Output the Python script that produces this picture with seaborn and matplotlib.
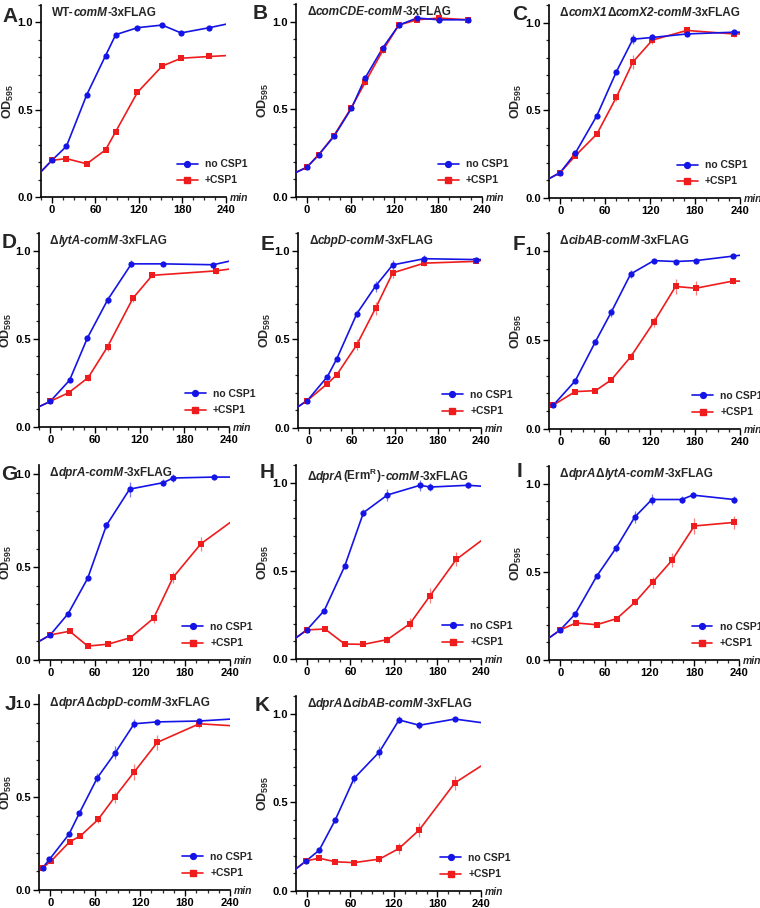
import numpy as np
import pandas as pd
import matplotlib
matplotlib.use("Agg")
import matplotlib.pyplot as plt
import matplotlib.ticker as ticker
import matplotlib.transforms as mtrans
from matplotlib.lines import Line2D
from matplotlib.offsetbox import TextArea, HPacker, AnchoredOffsetbox
import seaborn as sns


# ---------------------------------------------------------------------------
# Données (OD595 en fonction du temps, min)
# *_edge = (valeur de la courbe à -15 min, fin "no CSP1" à 240, fin "+CSP1" à 240)
# ---------------------------------------------------------------------------
A_t = [0, 20, 48, 74, 88, 118, 152, 178, 217]
A_no = [0.21, 0.29, 0.585, 0.81, 0.93, 0.97, 0.985, 0.94, 0.97]
A_csp = [0.21, 0.22, 0.19, 0.27, 0.375, 0.60, 0.75, 0.795, 0.805]
A_no_err = [0.005, 0.005, 0.005, 0.005, 0.005, 0.005, 0.005, 0.005, 0.005]
A_csp_err = [0.005, 0.005, 0.005, 0.005, 0.005, 0.005, 0.005, 0.005, 0.005]
A_edge = (0.145, 0.99, 0.81)

B_t = [0, 16, 37, 61, 80, 104, 126, 151, 181, 221]
B_no = [0.17, 0.24, 0.345, 0.505, 0.68, 0.85, 0.98, 1.02, 1.01, 1.01]
B_csp = [0.17, 0.24, 0.35, 0.51, 0.655, 0.835, 0.98, 1.01, 1.02, 1.01]
B_no_err = [0.005, 0.005, 0.01, 0.01, 0.015, 0.015, 0.015, 0.005, 0.005, 0.005]
B_csp_err = [0.005, 0.005, 0.01, 0.01, 0.015, 0.015, 0.01, 0.005, 0.005, 0.005]
B_edge = (0.14, None, None)

C_t = [0, 20, 49, 75, 97, 123, 169, 232]
C_no = [0.145, 0.255, 0.47, 0.72, 0.905, 0.915, 0.935, 0.945]
C_csp = [0.145, 0.24, 0.365, 0.575, 0.775, 0.90, 0.955, 0.935]
C_no_err = [0.005, 0.01, 0.01, 0.015, 0.03, 0.02, 0.01, 0.01]
C_csp_err = [0.005, 0.01, 0.01, 0.02, 0.04, 0.02, 0.015, 0.015]
C_edge = (0.11, 0.945, 0.935)

D_t_no = [0, 26, 50, 77, 109, 151, 219]
D_t_csp = [0, 25, 51, 77, 111, 137, 222]
D_no = [0.145, 0.265, 0.505, 0.72, 0.925, 0.925, 0.92]
D_csp = [0.145, 0.195, 0.28, 0.455, 0.73, 0.86, 0.885]
D_no_err = [0.005, 0.01, 0.015, 0.02, 0.02, 0.01, 0.01]
D_csp_err = [0.005, 0.01, 0.02, 0.025, 0.02, 0.01, 0.015]
D_edge = (0.115, 0.94, 0.895)

E_t = [-2, 26, 39, 67, 93, 117, 161, 233]
E_no = [0.155, 0.29, 0.39, 0.645, 0.80, 0.92, 0.955, 0.95]
E_csp = [0.155, 0.25, 0.30, 0.47, 0.675, 0.875, 0.93, 0.94]
E_no_err = [0.01, 0.01, 0.01, 0.02, 0.03, 0.025, 0.02, 0.01]
E_csp_err = [0.01, 0.01, 0.01, 0.03, 0.035, 0.03, 0.015, 0.01]
E_edge = (0.12, 0.95, 0.945)

F_t = [-9, 20, 47, 68, 94, 125, 154, 181, 230]
F_no = [0.135, 0.27, 0.49, 0.655, 0.87, 0.945, 0.94, 0.945, 0.97]
F_csp = [0.135, 0.21, 0.215, 0.275, 0.405, 0.60, 0.80, 0.79, 0.83]
F_no_err = [0.01, 0.01, 0.015, 0.025, 0.025, 0.01, 0.01, 0.01, 0.01]
F_csp_err = [0.01, 0.01, 0.01, 0.01, 0.02, 0.03, 0.04, 0.04, 0.015]
F_edge = (0.12, 0.975, 0.83)

G_t_no = [0, 24, 50, 75, 106, 151, 164, 219]
G_t_csp = [0, 26, 50, 77, 107, 138, 164, 201]
G_no = [0.135, 0.25, 0.44, 0.725, 0.92, 0.955, 0.98, 0.985]
G_csp = [0.135, 0.155, 0.075, 0.085, 0.12, 0.225, 0.445, 0.625]
G_no_err = [0.01, 0.01, 0.01, 0.02, 0.04, 0.02, 0.02, 0.01]
G_csp_err = [0.01, 0.01, 0.01, 0.01, 0.015, 0.025, 0.03, 0.04]
G_edge = (0.10, 0.985, 0.74)

H_t_no = [0, 24, 52, 78, 111, 156, 170, 222]
H_t_csp = [0, 25, 52, 78, 111, 142, 170, 206]
H_no = [0.165, 0.275, 0.525, 0.83, 0.93, 0.985, 0.975, 0.985]
H_csp = [0.165, 0.17, 0.085, 0.083, 0.11, 0.20, 0.36, 0.565]
H_no_err = [0.01, 0.01, 0.01, 0.02, 0.035, 0.03, 0.025, 0.015]
H_csp_err = [0.01, 0.01, 0.01, 0.01, 0.02, 0.03, 0.04, 0.04]
H_edge = (0.12, 0.98, 0.67)

I_t_no = [0, 20, 49, 75, 100, 123, 163, 178, 233]
I_t_csp = [0, 21, 49, 76, 101, 124, 150, 180, 233]
I_no = [0.17, 0.26, 0.475, 0.635, 0.81, 0.91, 0.91, 0.935, 0.91]
I_csp = [0.17, 0.21, 0.20, 0.235, 0.33, 0.44, 0.565, 0.76, 0.78]
I_no_err = [0.01, 0.01, 0.01, 0.02, 0.035, 0.03, 0.02, 0.015, 0.02]
I_csp_err = [0.01, 0.01, 0.01, 0.01, 0.02, 0.03, 0.04, 0.045, 0.035]
I_edge = (0.125, None, None)

J_t_no = [-10, -1, 25, 39, 63, 87, 112, 142, 199]
J_t_csp = [-10, 1, 26, 40, 64, 86, 112, 143, 199]
J_no = [0.12, 0.165, 0.30, 0.415, 0.605, 0.74, 0.895, 0.905, 0.91]
J_csp = [0.12, 0.155, 0.26, 0.29, 0.38, 0.50, 0.635, 0.795, 0.895]
J_no_err = [0.01, 0.01, 0.01, 0.01, 0.025, 0.035, 0.025, 0.01, 0.01]
J_csp_err = [0.01, 0.01, 0.01, 0.01, 0.02, 0.03, 0.045, 0.04, 0.02]
J_edge = (None, 0.92, 0.885)

K_t = [-1, 17, 39, 65, 100, 127, 155, 204]
K_no = [0.17, 0.23, 0.40, 0.635, 0.785, 0.965, 0.935, 0.97]
K_csp = [0.17, 0.185, 0.165, 0.16, 0.18, 0.24, 0.345, 0.61]
K_no_err = [0.01, 0.01, 0.01, 0.025, 0.035, 0.02, 0.02, 0.01]
K_csp_err = [0.01, 0.01, 0.01, 0.01, 0.02, 0.03, 0.04, 0.04]
K_edge = (0.125, 0.95, 0.705)

# Titres : morceaux (texte, italique ?)
DELTA = "\u0394"
titles = {
    "A": [("WT-", False), ("comM", True), ("-3xFLAG", False)],
    "B": [(DELTA, False), ("comCDE-comM", True), ("-3xFLAG", False)],
    "C": [(DELTA, False), ("comX1", True), (DELTA, False), ("comX2-comM", True), ("-3xFLAG", False)],
    "D": [(DELTA, False), ("lytA-comM", True), ("-3xFLAG", False)],
    "E": [(DELTA, False), ("cbpD-comM", True), ("-3xFLAG", False)],
    "F": [(DELTA, False), ("cibAB-comM", True), ("-3xFLAG", False)],
    "G": [(DELTA, False), ("dprA-comM", True), ("-3xFLAG", False)],
    "H": [(DELTA, False), ("dprA", True), ("(Erm$^{R}$)-", False), ("comM", True), ("-3xFLAG", False)],
    "I": [(DELTA, False), ("dprA", True), (DELTA, False), ("lytA-comM", True), ("-3xFLAG", False)],
    "J": [(DELTA, False), ("dprA", True), (DELTA, False), ("cbpD-comM", True), ("-3xFLAG", False)],
    "K": [(DELTA, False), ("dprA", True), (DELTA, False), ("cibAB-comM", True), ("-3xFLAG", False)],
}

panels = {
    "A": (A_t, A_no, A_no_err, A_t, A_csp, A_csp_err, A_edge),
    "B": (B_t, B_no, B_no_err, B_t, B_csp, B_csp_err, B_edge),
    "C": (C_t, C_no, C_no_err, C_t, C_csp, C_csp_err, C_edge),
    "D": (D_t_no, D_no, D_no_err, D_t_csp, D_csp, D_csp_err, D_edge),
    "E": (E_t, E_no, E_no_err, E_t, E_csp, E_csp_err, E_edge),
    "F": (F_t, F_no, F_no_err, F_t, F_csp, F_csp_err, F_edge),
    "G": (G_t_no, G_no, G_no_err, G_t_csp, G_csp, G_csp_err, G_edge),
    "H": (H_t_no, H_no, H_no_err, H_t_csp, H_csp, H_csp_err, H_edge),
    "I": (I_t_no, I_no, I_no_err, I_t_csp, I_csp, I_csp_err, I_edge),
    "J": (J_t_no, J_no, J_no_err, J_t_csp, J_csp, J_csp_err, J_edge),
    "K": (K_t, K_no, K_no_err, K_t, K_csp, K_csp_err, K_edge),
}

# ---------------------------------------------------------------------------
# Mise en page (pixels : gauche, droite, haut, bas), ylim max, position légende,
# position de la lettre du panneau (x, ligne de base)
# ---------------------------------------------------------------------------
layout = {
    "A": ((41, 226, 5, 197), 1.1, 0.735, (2, 22)),
    "B": ((296, 482, 4, 197), 1.1, 0.763, (253, 19)),
    "C": ((549, 740, 5, 198), 1.1, 0.67, (512, 20)),
    "D": ((39, 229, 233, 427), 1.1, 0.768, (2, 248)),
    "E": ((298, 481, 233, 428), 1.1, 0.787, (261, 250)),
    "F": ((549, 740, 233, 429), 1.1, 0.75, (513, 250)),
    "G": ((39, 230, 465, 660), 1.05, 0.75, (1, 480)),
    "H": ((296, 481, 465, 659), 1.1, 0.79, (260, 478)),
    "I": ((549, 739, 466, 660), 1.1, 0.75, (517, 477)),
    "J": ((39, 230, 695, 890), 1.05, 0.75, (5, 710)),
    "K": ((296, 481, 696, 891), 1.1, 0.78, (255, 711)),
}

BLUE = "#1414e6"
RED = "#ee1c1c"
BLUE_ERR = "#7b7bf0"
RED_ERR = "#f58080"
W, H = 760, 908
XMIN, XMAX = -15, 240

sns.set_theme(style="ticks")
plt.rcParams["font.family"] = ["Liberation Sans", "DejaVu Sans"]
plt.rcParams["mathtext.fontset"] = "custom"
plt.rcParams["mathtext.rm"] = "Liberation Sans:bold"
plt.rcParams["mathtext.bf"] = "Liberation Sans:bold"
plt.rcParams["mathtext.it"] = "Liberation Sans:bold:italic"
plt.rcParams["mathtext.default"] = "bf"
NARROW = ["Liberation Sans Narrow", "Liberation Sans"]

fig = plt.figure(figsize=(W / 100, H / 100), dpi=100)


def draw_series(ax, t, y, err, edge_start, edge_end, color, ecolor, marker):
    # tracé de la courbe (prolongée jusqu'aux bords quand elle l'est sur la figure)
    xs, ys = list(t), list(y)
    if edge_start is not None:
        xs = [XMIN] + xs
        ys = [edge_start] + ys
    if edge_end is not None:
        xs = xs + [XMAX]
        ys = ys + [edge_end]
    df = pd.DataFrame({"t": xs, "od": ys})
    sns.lineplot(data=df, x="t", y="od", ax=ax, color=color, linewidth=1.2,
                 sort=False, estimator=None, zorder=3)
    ax.errorbar(t, y, yerr=err, fmt="none", ecolor=ecolor, elinewidth=0.9,
                capsize=0, zorder=3.5)
    sns.scatterplot(x=t, y=y, ax=ax, color=color, marker=marker, s=20,
                    linewidth=0, zorder=4)


for key, (t_no, y_no, e_no, t_csp, y_csp, e_csp, edge) in panels.items():
    (l, r, top, bot), ytop, leg_x, (lx, lb) = layout[key]
    ax = fig.add_axes([l / W, 1 - bot / H, (r - l) / W, (bot - top) / H])

    draw_series(ax, t_csp, y_csp, e_csp, edge[0], edge[2], RED, RED_ERR, "s")
    draw_series(ax, t_no, y_no, e_no, edge[0], edge[1], BLUE, BLUE_ERR, "o")

    ax.set_xlim(XMIN, XMAX)
    ax.set_ylim(0, ytop)
    ax.xaxis.set_major_locator(ticker.FixedLocator([0, 60, 120, 180, 240]))
    ax.xaxis.set_minor_locator(ticker.MultipleLocator(15))
    ax.yaxis.set_major_locator(ticker.FixedLocator([0.0, 0.5, 1.0]))
    ax.yaxis.set_minor_locator(ticker.MultipleLocator(0.1))
    ax.yaxis.set_major_formatter(ticker.FormatStrFormatter("%.1f"))
    ax.tick_params(which="major", direction="out", length=4, width=1.0, pad=2,
                   labelsize=8, colors="black")
    ax.tick_params(which="minor", direction="out", length=2.5, width=0.9)
    for lab in ax.get_xticklabels() + ax.get_yticklabels():
        lab.set_family(NARROW)
        lab.set_fontweight("bold")
    sns.despine(ax=ax)
    for s in ("left", "bottom"):
        ax.spines[s].set_linewidth(1.2)
        ax.spines[s].set_color("black")

    ax.set_xlabel("")
    ax.set_ylabel("OD$_{595}$", fontsize=9, fontweight="bold")
    ax.yaxis.set_label_coords(-25 / (r - l), 0.5)

    # "min" à droite de l'axe des x
    off = mtrans.offset_copy(ax.transAxes, fig=fig, x=4, y=-1, units="dots")
    ax.text(1.0, 0.0, "min", transform=off, ha="left", va="center",
            fontsize=7.5, fontweight="bold", fontstyle="italic", family=NARROW)

    # titre (morceaux italiques / droits)
    pieces = [TextArea(txt, textprops=dict(fontsize=8.5, fontweight="bold",
                                           fontstyle="italic" if it else "normal"))
              for txt, it in titles[key]]
    box = HPacker(children=pieces, align="baseline", pad=0, sep=0)
    anch = AnchoredOffsetbox(loc="upper left", child=box, pad=0, borderpad=0,
                             frameon=False,
                             bbox_to_anchor=(11 / (r - l), 1 - 2 / (bot - top)),
                             bbox_transform=ax.transAxes)
    ax.add_artist(anch)

    # légende
    handles = [Line2D([], [], color=BLUE, marker="o", ms=4.2, lw=1.2),
               Line2D([], [], color=RED, marker="s", ms=4.2, lw=1.2)]
    ax.legend(handles, ["no CSP1", "+CSP1"], loc="lower left",
              bbox_to_anchor=(leg_x, 0.06), frameon=False, borderpad=0,
              borderaxespad=0, handlelength=2.0, handletextpad=0.7,
              labelspacing=0.6, prop=dict(family=NARROW, weight="bold", size=7.5))

    # lettre du panneau
    fig.text(lx / W, 1 - lb / H, key, fontsize=15, fontweight="bold",
             ha="left", va="baseline")

fig.savefig("out.png", dpi=100)
